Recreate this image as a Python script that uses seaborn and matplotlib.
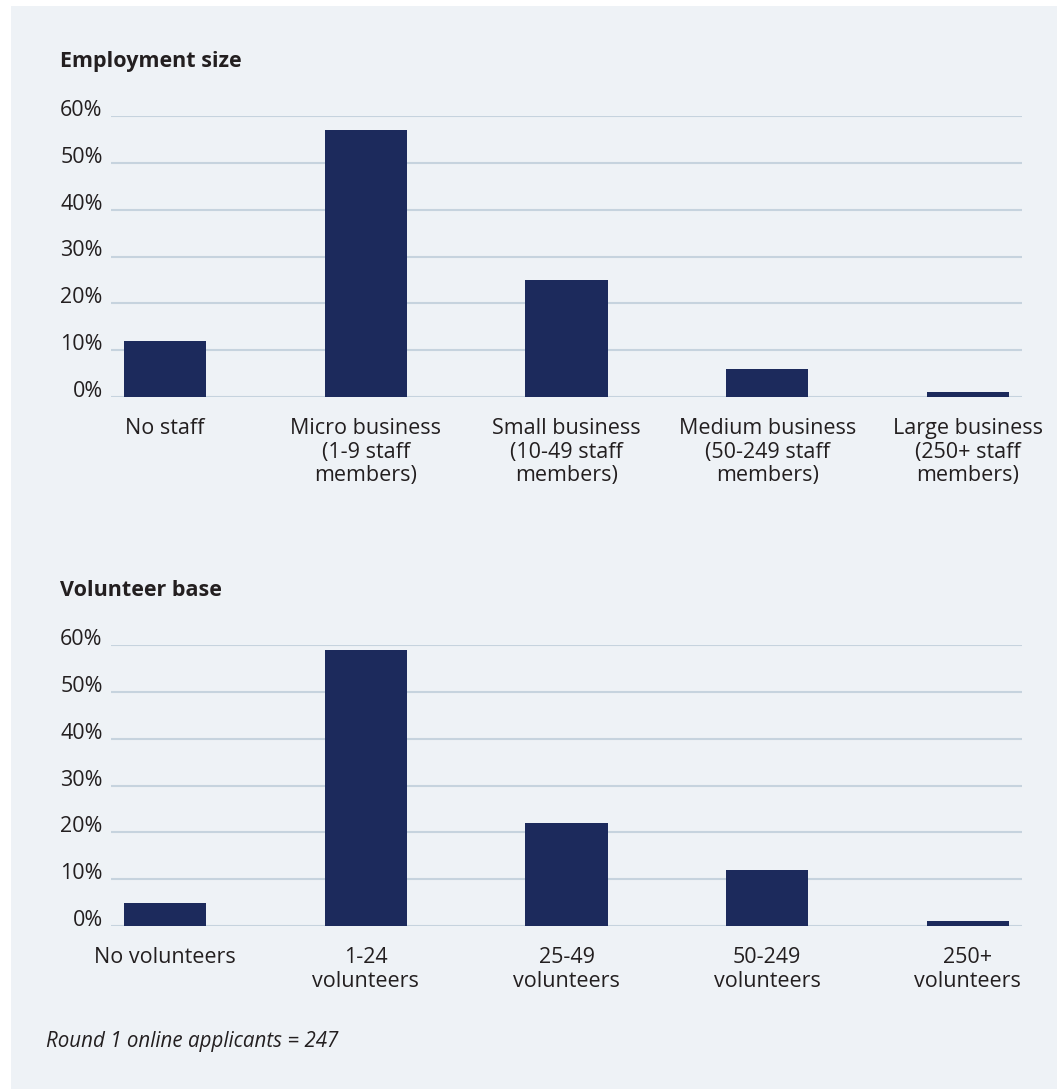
import matplotlib
matplotlib.use("Agg")
import matplotlib.pyplot as plt
from matplotlib.patches import Rectangle
from matplotlib.ticker import FixedLocator, FuncFormatter
import seaborn as sns
import pandas as pd

# Share of Round 1 online applicants by organisation size
employment_labels = [
    "No staff",
    "Micro business\n(1-9 staff\nmembers)",
    "Small business\n(10-49 staff\nmembers)",
    "Medium business\n(50-249 staff\nmembers)",
    "Large business\n(250+ staff\nmembers)",
]
employment_pct = [12, 57, 25, 6, 1]

volunteer_labels = [
    "No volunteers",
    "1-24\nvolunteers",
    "25-49\nvolunteers",
    "50-249\nvolunteers",
    "250+\nvolunteers",
]
volunteer_pct = [5, 59, 22, 12, 1]

y_ticks = [0, 10, 20, 30, 40, 50, 60]

NAVY = "#1c2a5c"
PANEL = "#eef2f6"
GRID = "#c6d3de"
TEXT = "#231f20"
FS = 15.5

sns.set_theme(style="white")
plt.rcParams["font.family"] = ["Open Sans", "DejaVu Sans"]

W, H = 1064, 1090
fig = plt.figure(figsize=(W / 100, H / 100), dpi=100)
fig.patch.set_facecolor("white")

# light panel behind both charts
fig.patches.append(Rectangle((11 / W, 1 / H), 1046 / W, 1083 / H,
                             transform=fig.transFigure, facecolor=PANEL,
                             edgecolor="none", zorder=-10))


def draw(ax, labels, values):
    df = pd.DataFrame({"cat": labels, "pct": values})
    sns.barplot(data=df, x="cat", y="pct", color=NAVY, width=0.41,
                saturation=1, linewidth=0, ax=ax, zorder=3)
    ax.set_facecolor("none")
    ax.set_ylim(0, 60)
    ax.set_xlim(-0.27, 4.27)
    ax.yaxis.set_major_locator(FixedLocator(y_ticks))
    ax.yaxis.set_major_formatter(FuncFormatter(lambda v, p: f"{int(v)}%"))
    ax.grid(axis="y", color=GRID, linewidth=1.5, zorder=0)
    ax.set_axisbelow(True)
    for s in ax.spines.values():
        s.set_visible(False)
    ax.set_xlabel("")
    ax.set_ylabel("")
    ax.tick_params(axis="y", length=0, pad=6, labelsize=FS, labelcolor=TEXT)
    ax.tick_params(axis="x", length=0, pad=15, labelsize=FS, labelcolor=TEXT)
    for t in ax.get_yticklabels():
        t.set_verticalalignment("baseline")
    for t in ax.get_xticklabels():
        t.set_linespacing(1.17)
        t.set_horizontalalignment("center")


ax1 = fig.add_axes([111 / W, 1 - 397 / H, 911 / W, 281 / H])
draw(ax1, employment_labels, employment_pct)

ax2 = fig.add_axes([111 / W, 1 - 926 / H, 911 / W, 281 / H])
draw(ax2, volunteer_labels, volunteer_pct)

fig.text(60 / W, 1 - 62 / H, "Employment size", fontsize=FS,
         fontweight="bold", color=TEXT, va="center", ha="left")
fig.text(60 / W, 1 - 591 / H, "Volunteer base", fontsize=FS,
         fontweight="bold", color=TEXT, va="center", ha="left")
fig.text(46 / W, 1 - 1042 / H, "Round 1 online applicants = 247",
         fontsize=14.8, style="italic", color=TEXT, va="center", ha="left")

fig.savefig("out.png", dpi=100, facecolor="white")
